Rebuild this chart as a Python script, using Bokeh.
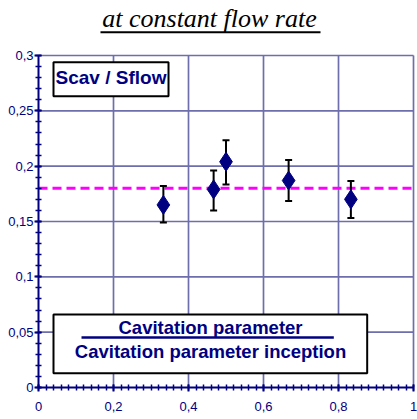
import numpy as np
from bokeh.plotting import figure
from bokeh.models import Range1d, FixedTicker, ColumnDataSource, Label, BoxAnnotation
from bokeh.embed import file_html
from bokeh.resources import INLINE

# ---- data ----
x_vals = [0.333, 0.467, 0.500, 0.667, 0.833]
y_vals = [0.165, 0.179, 0.204, 0.187, 0.170]
y_upper = [0.182, 0.196, 0.2235, 0.2055, 0.1867]
y_lower = [0.149, 0.160, 0.1834, 0.1686, 0.1532]
ref_level = [0.18]

x_ticks = [0, 0.2, 0.4, 0.6, 0.8, 1.0]
x_tick_labels = ["0", "0,2", "0,4", "0,6", "0,8", "1"]
y_ticks = [0, 0.05, 0.1, 0.15, 0.2, 0.25, 0.3]
y_tick_labels = ["0", "0,05", "0,1", "0,15", "0,2", "0,25", "0,3"]

title_text = "at constant flow rate"
box1_text = "Scav / Sflow"
num_text = "Cavitation parameter"
den_text = "Cavitation parameter inception"

NAVY = "#000080"
GRID = "#6e6eac"

x0, x1 = x_ticks[0], x_ticks[-1]
y0, y1 = y_ticks[0], y_ticks[-1]

p = figure(width=417, height=419, output_backend="svg", toolbar_location=None,
           x_range=Range1d(x0, 1.008), y_range=Range1d(y0, 0.3497),
           min_border_left=38, min_border_right=1, min_border_top=0, min_border_bottom=32)
p.background_fill_color = "white"
p.border_fill_color = "white"
p.outline_line_color = None
p.grid.visible = False

minor_x = [round(v, 2) for v in np.arange(0, 1.0001, 0.02)]
minor_y = [round(v, 2) for v in np.arange(0, 0.3001, 0.01)]
p.xaxis.ticker = FixedTicker(ticks=x_ticks, minor_ticks=minor_x)
p.yaxis.ticker = FixedTicker(ticks=y_ticks, minor_ticks=minor_y)
p.xaxis.major_label_overrides = {t: l for t, l in zip(x_ticks, x_tick_labels)}
p.yaxis.major_label_overrides = {t: l for t, l in zip(y_ticks, y_tick_labels)}
p.xaxis.bounds = (x0, x1)
p.yaxis.bounds = (y0, y1)

for ax in (p.xaxis, p.yaxis):
    ax.axis_line_color = NAVY
    ax.axis_line_width = 2
    ax.major_tick_line_color = NAVY
    ax.minor_tick_line_color = NAVY
    ax.major_tick_line_width = 2
    ax.minor_tick_line_width = 1.5
    ax.major_label_text_font = "Liberation Sans"
    ax.major_label_text_font_size = "13px"
    ax.major_label_text_color = NAVY
p.xaxis.major_tick_in = 3
p.xaxis.major_tick_out = 4
p.xaxis.minor_tick_in = 3
p.xaxis.minor_tick_out = 3
p.xaxis.major_label_standoff = 10
p.yaxis.major_tick_in = 3
p.yaxis.major_tick_out = 4
p.yaxis.minor_tick_in = 3
p.yaxis.minor_tick_out = 3
p.yaxis.major_label_standoff = 1

# grid lines at the major ticks, limited to the data area
p.segment(x0=x_ticks[1:], y0=[y0] * (len(x_ticks) - 1), x1=x_ticks[1:], y1=[y1] * (len(x_ticks) - 1),
          line_color=GRID, line_width=1.7)
p.segment(x0=[x0] * (len(y_ticks) - 1), y0=y_ticks[1:], x1=[x1] * (len(y_ticks) - 1), y1=y_ticks[1:],
          line_color=GRID, line_width=1.7)

# dashed reference line
p.segment(x0=[x0], y0=ref_level, x1=[x1], y1=ref_level,
          line_color="#ff00ff", line_width=3, line_dash="9 5")

# error bars
src = ColumnDataSource(dict(x=x_vals, y=y_vals, up=y_upper, lo=y_lower))
p.segment(x0="x", y0="lo", x1="x", y1="up", source=src, line_color="black", line_width=2)
p.scatter(x="x", y="up", source=src, marker="dash", size=7, line_color="black", line_width=2)
p.scatter(x="x", y="lo", source=src, marker="dash", size=7, line_color="black", line_width=2)

# diamonds
p.scatter(x="x", y="y", source=src, marker="diamond", size=19,
          fill_color=NAVY, line_color=NAVY, line_width=1)

def box(l, r, b, t, color="white", line="black", lw=2):
    p.add_layout(BoxAnnotation(left=l, right=r, bottom=b, top=t,
                               fill_color=color, fill_alpha=1,
                               line_color=line, line_alpha=1, line_width=lw))

def label(x, y, text, size, font="Liberation Sans", style="bold", color=NAVY):
    p.add_layout(Label(x=x, y=y, text=text, text_align="center", text_baseline="middle",
                       text_font=font, text_font_style=style, text_font_size=size,
                       text_color=color))

# Scav / Sflow box
box(0.04, 0.3467, 0.2632, 0.2939)
label(0.1933, 0.2801, box1_text, "19px")

# bottom box (fraction)
box(0.04, 0.8765, 0.0129, 0.0660)
label(0.4587, 0.0540, num_text, "18.5px")
box(0.1147, 0.7875, 0.0440, 0.0464, color=NAVY, line=None, lw=0)
label(0.4587, 0.0323, den_text, "18.5px")

# title with underline
label(0.456, 0.3333, title_text, "26px", font="Liberation Serif", style="italic", color="black")
box(0.1653, 0.752, 0.3202, 0.3220, color="black", line=None, lw=0)

open("out.html", "w").write(file_html(p, INLINE))
